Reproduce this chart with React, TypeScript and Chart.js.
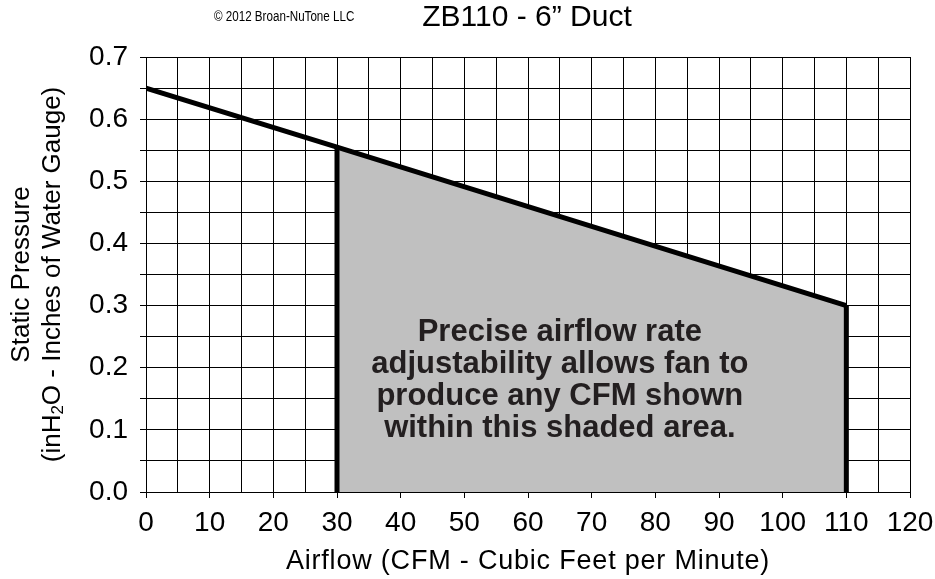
import React, { useEffect, useRef } from 'react';
import { Chart, registerables } from 'chart.js';

Chart.register(...registerables);

// ---- data ----
const curveAirflow = [0, 30, 110];
const curvePressure = [0.65, 0.555, 0.3];
const shadedAirflow = [30, 110];
const shadedPressure = [0.555, 0.3];
const xTickLabels = ['0', '10', '20', '30', '40', '50', '60', '70', '80', '90', '100', '110', '120'];
const yTickLabels = ['0.0', '0.1', '0.2', '0.3', '0.4', '0.5', '0.6', '0.7'];
const titleText = 'ZB110 - 6\u201D Duct';
const copyrightText = '\u00A9 2012 Broan-NuTone LLC';
const xAxisTitle = 'Airflow (CFM - Cubic Feet per Minute)';
const yAxisTitleLine1 = 'Static Pressure';
const yAxisTitleLine2 = ['(inH', '2', 'O - Inches of Water Gauge)'];
const noteLines = [
  'Precise airflow rate',
  'adjustability allows fan to',
  'produce any CFM shown',
  'within this shaded area.',
];

const FONT = "'Liberation Sans', Arial, Helvetica, sans-serif";

const textPlugin = {
  id: 'chartTexts',
  afterDatasetsDraw(chart: any) {
    const { ctx, scales } = chart;
    const xs = scales.x;
    const ys = scales.y;
    ctx.save();
    ctx.fillStyle = '#231f20';
    ctx.font = `bold 31px ${FONT}`;
    ctx.textAlign = 'center';
    ctx.textBaseline = 'middle';
    const cx = xs.getPixelForValue(65);
    const y0 = ys.getPixelForValue(0.256);
    noteLines.forEach((l, i) => ctx.fillText(l, cx, y0 + i * 32));
    ctx.restore();
  },
  afterDraw(chart: any) {
    const { ctx, chartArea } = chart;
    ctx.save();
    ctx.fillStyle = '#000';
    ctx.textBaseline = 'middle';
    // title
    ctx.font = `30px ${FONT}`;
    ctx.textAlign = 'center';
    ctx.fillText(titleText, 527, 18);
    // copyright (condensed)
    ctx.save();
    ctx.font = `14px ${FONT}`;
    ctx.textAlign = 'left';
    ctx.translate(214, 17);
    ctx.scale(0.83, 1);
    ctx.fillText(copyrightText, 0, 0);
    ctx.restore();
    // x axis title
    ctx.save();
    ctx.font = `27px ${FONT}`;
    (ctx as any).letterSpacing = '0.8px';
    ctx.textAlign = 'center';
    ctx.fillText(xAxisTitle, (chartArea.left + chartArea.right) / 2, 562);
    ctx.restore();
    // y axis title
    const cy = (chartArea.top + chartArea.bottom) / 2;
    ctx.translate(0, cy);
    ctx.rotate(-Math.PI / 2);
    const big = `26px ${FONT}`;
    const small = `17px ${FONT}`;
    ctx.font = big;
    ctx.textAlign = 'center';
    ctx.fillText(yAxisTitleLine1, 0, 22);
    const w1 = ctx.measureText(yAxisTitleLine2[0]).width;
    const w3 = ctx.measureText(yAxisTitleLine2[2]).width;
    ctx.font = small;
    const w2 = ctx.measureText(yAxisTitleLine2[1]).width;
    const total = w1 + w2 + w3;
    let x = -total / 2;
    ctx.textAlign = 'left';
    ctx.font = big;
    ctx.fillText(yAxisTitleLine2[0], x, 53);
    x += w1;
    ctx.font = small;
    ctx.fillText(yAxisTitleLine2[1], x, 58);
    x += w2;
    ctx.font = big;
    ctx.fillText(yAxisTitleLine2[2], x, 53);
    ctx.restore();
  },
};

export default function App() {
  const ref = useRef<HTMLCanvasElement | null>(null);
  useEffect(() => {
    if (!ref.current) return;
    const curve = curveAirflow.map((x, i) => ({ x, y: curvePressure[i] }));
    const shade = shadedAirflow.map((x, i) => ({ x, y: shadedPressure[i] }));
    const bars = shadedAirflow.map((x, i) => ({
      label: 'bar' + i,
      data: [{ x, y: 0 }, { x, y: shadedPressure[i] }],
      borderColor: '#000',
      borderWidth: 5,
      pointRadius: 0,
      fill: false,
      order: 1,
    }));
    const chart = new Chart(ref.current, {
      type: 'line',
      data: {
        datasets: [
          {
            label: 'shade',
            data: shade,
            fill: 'origin',
            backgroundColor: '#c0c0c0',
            borderWidth: 0,
            borderColor: 'rgba(0,0,0,0)',
            pointRadius: 0,
            order: 3,
          },
          ...bars,
          {
            label: 'curve',
            data: curve,
            borderColor: '#000',
            borderWidth: 5,
            pointRadius: 0,
            fill: false,
            order: 0,
          },
        ] as any,
      },
      options: {
        animation: false,
        responsive: false,
        events: [],
        layout: { padding: { left: 0, right: 25, top: 57, bottom: 0 } },
        plugins: { legend: { display: false }, tooltip: { enabled: false } },
        scales: {
          x: {
            type: 'linear',
            min: 0,
            max: 120,
            afterFit: (s: any) => {
              s.height = 87;
              s.paddingLeft = 0;
              s.paddingRight = 0;
            },
            border: { color: '#000', width: 1 },
            grid: {
              color: '#000',
              lineWidth: 1,
              tickLength: 6,
              tickColor: (c: any) =>
                c.tick && Math.round(c.tick.value) % 10 === 0 ? '#000' : 'rgba(0,0,0,0)',
            },
            ticks: {
              stepSize: 5,
              autoSkip: false,
              maxRotation: 0,
              color: '#000',
              padding: 8,
              font: { family: FONT, size: 28 },
              callback: (v: any) => {
                const n = Math.round(Number(v));
                return n % 10 === 0 ? xTickLabels[n / 10] : '';
              },
            },
          },
          y: {
            type: 'linear',
            min: 0,
            max: 0.7,
            afterFit: (s: any) => {
              s.width = 146;
              s.paddingTop = 0;
              s.paddingBottom = 0;
            },
            border: { color: '#000', width: 1 },
            grid: { color: '#000', lineWidth: 1, tickLength: 6, tickColor: '#000' },
            ticks: {
              stepSize: 0.05,
              autoSkip: false,
              color: '#000',
              padding: 12,
              font: { family: FONT, size: 28 },
              callback: (v: any) => {
                const k = Math.round(Number(v) * 20);
                return k % 2 === 0 ? yTickLabels[k / 2] : '';
              },
            },
          },
        },
      },
      plugins: [textPlugin],
    });
    return () => chart.destroy();
  }, []);
  return (
    <div style={{ position: 'absolute', left: 0, top: 0, width: 935, height: 579, background: '#fff' }}>
      <canvas ref={ref} width={935} height={579} style={{ display: 'block' }} />
    </div>
  );
}
